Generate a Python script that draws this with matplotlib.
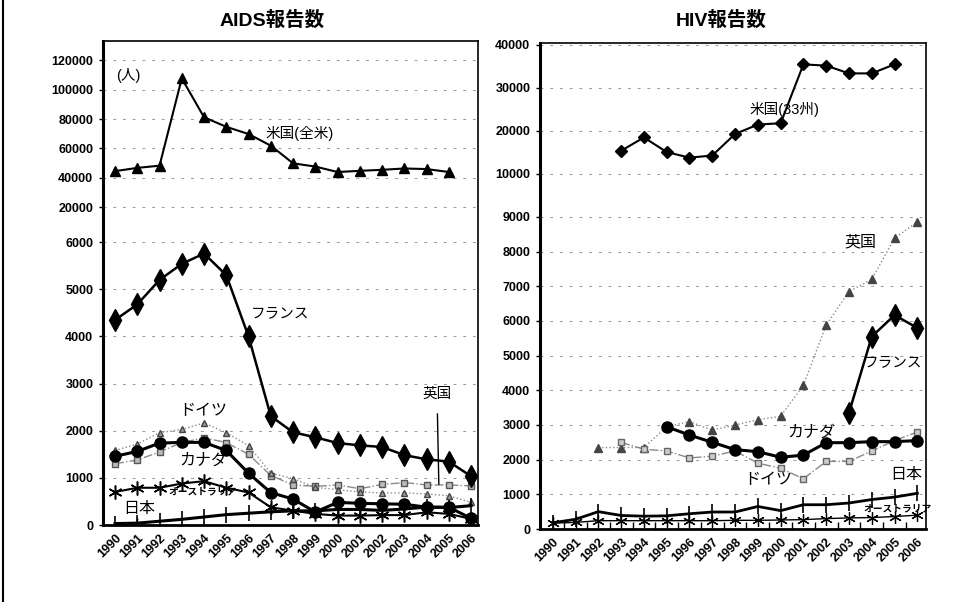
import numpy as np
import matplotlib.pyplot as plt
from matplotlib.lines import Line2D

plt.rcParams['font.family'] = ['Liberation Sans', 'Noto Sans CJK JP']

years = [str(y) for y in range(1990, 2007)]
x = np.arange(len(years))

# AIDS報告数 (1990-2006, 米国は2005まで)
aids_us = [44600, 46800, 48300, 107600, 81200, 74700, 69800, 61900, 49900,
           47700, 44000, 44800, 45500, 46400, 46000, 44000]
aids_france = [4350, 4680, 5200, 5540, 5760, 5300, 4000, 2310, 1966, 1862,
               1738, 1690, 1655, 1483, 1393, 1345, 1034]
aids_canada = [1458, 1561, 1738, 1753, 1753, 1581, 1099, 687, 550, 275, 480,
               460, 450, 440, 378, 378, 140]
aids_germany = [1581, 1718, 1959, 2027, 2165, 1959, 1684, 1099, 983, 800, 750,
                700, 680, 680, 660, 620, 480]
aids_uk = [1300, 1380, 1550, 1750, 1850, 1750, 1500, 1050, 850, 820, 850,
           770, 860, 900, 850, 850, 830]
aids_australia = [700, 790, 790, 880, 930, 790, 690, 375, 305, 235, 200, 200,
                  210, 210, 270, 235, 130]
aids_japan = [30, 40, 80, 120, 170, 220, 250, 280, 300, 300, 330, 330, 310,
              340, 380, 370, 410]

# HIV報告数
hiv_us = [15400, 18500, 15100, 13800, 14300, 19300, 21500, 21800, 35500,
          35200, 33400, 33400, 35500]                      # 1993-2005
hiv_uk = [2350, 2350, 2350, 2950, 3100, 2850, 3000, 3150, 3250, 4150, 5880,
          6850, 7200, 8390, 8860]                          # 1992-2006
hiv_france = [3350, 5550, 6170, 5800]                      # 2003-2006
hiv_canada = [2950, 2710, 2500, 2290, 2230, 2070, 2130, 2490, 2490, 2520,
              2520, 2550]                                  # 1995-2006
hiv_germany = [2500, 2300, 2250, 2050, 2100, 2250, 1900, 1750, 1450, 1950,
               1950, 2250, 2550, 2800]                     # 1993-2006
hiv_japan = [180, 280, 500, 390, 370, 380, 440, 490, 490, 650, 530, 700, 700,
             750, 850, 920, 1030]
hiv_australia = [170, 190, 240, 240, 240, 240, 240, 240, 250, 250, 260, 270,
                 300, 320, 330, 360, 400]

aids_ticks = [0, 1000, 2000, 3000, 4000, 5000, 6000,
              20000, 40000, 60000, 80000, 100000, 120000]
hiv_ticks = [0, 1000, 2000, 3000, 4000, 5000, 6000, 7000, 8000, 9000,
             10000, 20000, 30000, 40000]


def piecewise(vals, pos):
    vals = np.asarray(vals, float)
    pos = np.asarray(pos, float)
    return (lambda v: np.interp(v, vals, pos),
            lambda p: np.interp(p, pos, vals))


fig = plt.figure(figsize=(9.63, 6.02), dpi=100)
ax1 = fig.add_axes([103 / 963, 77 / 602, 375 / 963, 484 / 602])
ax2 = fig.add_axes([540 / 963, 73 / 602, 386 / 963, 486 / 602])

ax1.set_yscale('function', functions=piecewise([0, 6000, 20000, 120000, 140000],
                                               [0, 292, 328, 480, 632]))
ax2.set_yscale('function', functions=piecewise([0, 9000, 10000, 40000, 50000],
                                               [0, 312, 355, 484, 527]))

ast = (6, 2, 0)
gray = '#8a8a8a'

# ---- AIDS
ax1.plot(x[:len(aids_us)], aids_us, color='black', lw=1.5, marker='^', ms=7)
ax1.plot(x, aids_uk, color=gray, lw=1, ls='-.', marker='s', ms=4,
         mfc='#bbbbbb', mec='#555555')
ax1.plot(x, aids_germany, color=gray, lw=1, ls=':', marker='^', ms=5,
         mfc='#999999', mec='#444444')
ax1.plot(x, aids_france, color='black', lw=1.8, marker='d', ms=11)
ax1.plot(x, aids_canada, color='black', lw=2.2, marker='o', ms=8)
ax1.plot(x, aids_australia, color='black', lw=1.5, marker=ast, ms=10, mew=1.1)
ax1.plot(x, aids_japan, color='black', lw=2.2, marker='|', ms=11, mew=1.2)

# ---- HIV
ax2.plot(x[3:3 + len(hiv_us)], hiv_us, color='black', lw=1.5, marker='D', ms=6)
ax2.plot(x[2:], hiv_uk, color=gray, lw=1, ls=':', marker='^', ms=6,
         mfc='#444444', mec='#444444')
ax2.plot(x[3:], hiv_germany, color=gray, lw=1, ls='-.', marker='s', ms=4,
         mfc='#cccccc', mec='#666666')
ax2.plot(x[13:], hiv_france, color='black', lw=1.8, marker='d', ms=11)
ax2.plot(x[5:], hiv_canada, color='black', lw=2.2, marker='o', ms=8)
ax2.plot(x, hiv_australia, color='black', lw=1, marker=ast, ms=9, mew=0.9)
ax2.plot(x, hiv_japan, color='black', lw=2, marker='|', ms=11, mew=1.2)

for ax, ticks, top, lo, hi in [(ax1, aids_ticks, 122600, -0.54, 16.31),
                               (ax2, hiv_ticks, 40465, -0.56, 16.38)]:
    ax.set_ylim(0, top)
    ax.set_xlim(lo, hi)
    ax.set_yticks(ticks)
    ax.set_yticklabels([str(t) for t in ticks], fontsize=9, fontweight='bold')
    ax.set_xticks(x)
    ax.set_xticklabels(years, rotation=45, ha='right', rotation_mode='anchor',
                       fontsize=9, fontweight='bold')
    ax.tick_params(axis='y', length=3, width=1, pad=4)
    ax.tick_params(axis='x', length=0, pad=5)
    ax.grid(axis='y', color='#999999', lw=0.7, ls=(0, (3, 7)))
    ax.set_axisbelow(True)
    for s in ax.spines.values():
        s.set_linewidth(1.2)
    ax.spines['left'].set_linewidth(2.2)
    ax.spines['bottom'].set_linewidth(2)

ax2.set_xticks(x[:-1] + 0.5, minor=True)
ax2.tick_params(axis='x', which='minor', direction='in', length=5, width=1)

# ---- labels
fs = 10.5
ax1.text(0.58, 109700, '(人)', fontsize=fs, ha='center', va='center')
ax1.text(8.31, 70260, '米国(全米)', fontsize=fs, ha='center', va='center')
ax1.text(7.42, 4500, 'フランス', fontsize=fs, ha='center', va='center')
ax1.text(3.96, 2424, 'ドイツ', fontsize=fs + 1, ha='center', va='center')
ax1.text(3.96, 1377, 'カナダ', fontsize=fs + 1, ha='center', va='center')
ax1.text(3.91, 719, 'オーストラリア', fontsize=7, ha='center', va='center',
         fontweight='bold')
ax1.annotate('日本', xy=(1.0, 60), xytext=(1.08, 349), fontsize=fs + 1,
             ha='center', va='center',
             arrowprops=dict(arrowstyle='-', color='black', lw=1,
                             shrinkA=7, shrinkB=0))
ax1.annotate('英国', xy=(14.55, 860), xytext=(14.47, 2774), fontsize=fs,
             ha='center', va='center',
             arrowprops=dict(arrowstyle='-', color='black', lw=1,
                             shrinkA=7, shrinkB=0))

ax2.text(10.15, 25120, '米国(33州)', fontsize=fs, ha='center', va='center')
ax2.text(13.48, 8278, '英国', fontsize=fs + 1, ha='center', va='center')
ax2.text(14.93, 4817, 'フランス', fontsize=fs, ha='center', va='center')
ax2.text(11.33, 2798, 'カナダ', fontsize=fs + 1, ha='center', va='center')
ax2.text(9.45, 1413, 'ドイツ', fontsize=fs + 1, ha='center', va='center')
ax2.text(15.5, 1558, '日本', fontsize=fs + 1, ha='center', va='center')
ax2.text(15.11, 606, 'オーストラリア', fontsize=7, ha='center', va='center',
         fontweight='bold')

fig.text(272 / 963, 1 - 20 / 602, 'AIDS報告数', fontsize=14, fontweight='bold',
         ha='center', va='center')
fig.text(721 / 963, 1 - 20 / 602, 'HIV報告数', fontsize=14, fontweight='bold',
         ha='center', va='center')
fig.add_artist(Line2D([3 / 963, 3 / 963], [0, 1], transform=fig.transFigure,
                      color='black', lw=1.5))

fig.savefig('out.png', dpi=100)
